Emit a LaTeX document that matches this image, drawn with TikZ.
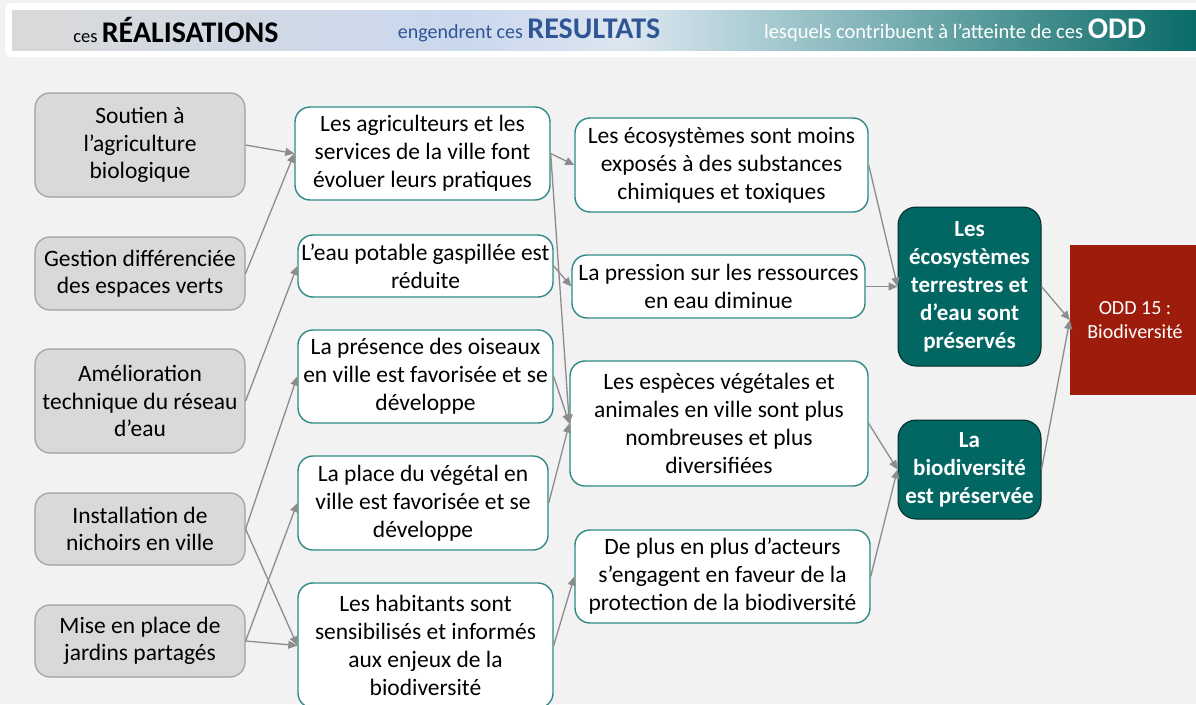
\documentclass[tikz,border=0pt]{standalone}
\usepackage{fontspec}
\setmainfont{Carlito}
\usetikzlibrary{arrows.meta}

\definecolor{fond}{HTML}{F2F2F2}
\definecolor{grisbox}{HTML}{D9D9D9}
\definecolor{grisbord}{HTML}{A0A0A0}
\definecolor{bordvert}{HTML}{2E8A86}
\definecolor{vertodd}{HTML}{026662}
\definecolor{rougeodd}{HTML}{9E1C0C}
\definecolor{fleche}{HTML}{8C8C8C}
\definecolor{bleutitre}{HTML}{2F5597}
\definecolor{bgris}{HTML}{D9D9D9}
\definecolor{bbleu}{HTML}{CAD8EE}
\definecolor{bclair}{HTML}{DDE6F0}
\definecolor{bturq}{HTML}{A6CAD0}
\definecolor{bvert}{HTML}{0A6B67}
\pgfdeclarehorizontalshading{bandeau}{100bp}{color(0bp)=(bgris); color(25bp)=(bgris);
  color(44bp)=(bbleu); color(51bp)=(bclair); color(57bp)=(bturq); color(75bp)=(bvert); color(100bp)=(bvert)}

\begin{document}
\begin{tikzpicture}[x=1pt, y=-1pt,
                    realisation/.style={rectangle, rounded corners=15pt, draw=grisbord, line width=1.2pt, fill=grisbox,
                                        minimum width=210pt, align=center, font=\fontsize{23.5}{27.5}\selectfont},
                    resultat/.style={rectangle, rounded corners=15pt, draw=bordvert, line width=1.4pt, fill=white,
                                     align=center, font=\fontsize{23.5}{28}\selectfont},
                    impact/.style={rectangle, rounded corners=18pt, draw=black!60!vertodd, line width=1pt, fill=vertodd,
                                   text=white, minimum width=143pt, align=center, font=\fontsize{23}{28}\selectfont\bfseries},
                    odd/.style={rectangle, fill=rougeodd, text=white, align=center, font=\fontsize{20}{24}\selectfont},
                    lien/.style={-{Triangle[width=8pt,length=9pt]}, draw=fleche, line width=1.3pt}]
  \fill[fond] (0,0) rectangle (1196,704);
  \useasboundingbox (0,0) rectangle (1196,704);
  \fill[white, rounded corners=6pt] (5,3) rectangle (1204,57);
  \shade[shading=bandeau] (12,10) rectangle (1196,50);
  \node (titre1) at (176,30) {\fontsize{18.5}{20}\selectfont ces \fontsize{30}{32}\selectfont\bfseries RÉALISATIONS};
  \node[text=bleutitre] (titre2) at (529,30) {\fontsize{20}{22}\selectfont engendrent ces \fontsize{30}{32}\selectfont\bfseries RESULTATS};
  \node[text=white] (titre3) at (955,30) {\fontsize{20.5}{22}\selectfont lesquels contribuent à l’atteinte de ces \fontsize{30}{32}\selectfont\bfseries ODD};

  \node[realisation, minimum height=104pt] (a1) at (140,145) {Soutien à\\l’agriculture\\biologique};
  \node[realisation, minimum height=73pt] (a2) at (140,273.5) {Gestion différenciée\\des espaces verts};
  \node[realisation, minimum height=104pt] (a3) at (140,401) {Amélioration\\technique du réseau\\d’eau};
  \node[realisation, minimum height=72pt] (a4) at (140,529) {Installation de\\nichoirs en ville};
  \node[realisation, minimum height=72pt] (a5) at (140,641) {Mise en place de\\jardins partagés};

  \node[resultat, minimum width=255pt, minimum height=93pt] (b1) at (422.5,153.5) {Les agriculteurs et les\\services de la ville font\\évoluer leurs pratiques};
  \node[resultat, minimum width=255pt, minimum height=62pt] (b2) at (425.5,266) {L’eau potable gaspillée est\\réduite};
  \node[resultat, minimum width=255pt, minimum height=93pt] (b3) at (425.5,376.5) {La présence des oiseaux\\en ville est favorisée et se\\développe};
  \node[resultat, minimum width=250pt, minimum height=94pt] (b4) at (423,503) {La place du végétal en\\ville est favorisée et se\\développe};
  \node[resultat, minimum width=255pt, minimum height=125pt] (b5) at (425.5,645.5) {Les habitants sont\\sensibilisés et informés\\aux enjeux de la\\biodiversité};

  \node[resultat, minimum width=293pt, minimum height=94pt] (c1) at (721.5,165) {Les écosystèmes sont moins\\exposés à des substances\\chimiques et toxiques};
  \node[resultat, minimum width=293pt, minimum height=63pt] (c2) at (718.5,286.5) {La pression sur les ressources\\en eau diminue};
  \node[resultat, minimum width=298pt, minimum height=125pt] (c3) at (719,423.5) {Les espèces végétales et\\animales en ville sont plus\\nombreuses et plus\\diversifiées};
  \node[resultat, minimum width=295pt, minimum height=93pt] (c4) at (722.5,576.5) {De plus en plus d’acteurs\\s’engagent en faveur de la\\protection de la biodiversité};

  \node[impact, minimum height=159pt] (d1) at (969.5,286.5) {Les\\écosystèmes\\terrestres et\\d’eau sont\\préservés};
  \node[impact, minimum height=99pt] (d2) at (969.5,469.5) {La\\biodiversité\\est préservée};

  \node[odd, minimum width=130pt, minimum height=150pt] (e) at (1135,320) {ODD 15 :\\Biodiversité};

  \draw[lien] (a1.east) -- (b1.west);
  \draw[lien] (a2.east) -- (b1.west);
  \draw[lien] (a3.east) -- (b2.west);
  \draw[lien] (a4.east) -- (b3.west);
  \draw[lien] (a4.east) -- (b5.west);
  \draw[lien] (a5.east) -- (b4.west);
  \draw[lien] (a5.east) -- (b5.west);
  \draw[lien] (b1.east) -- (c1.west);
  \draw[lien] (b1.east) -- (c3.west);
  \draw[lien] (b2.east) -- (c2.west);
  \draw[lien] (b3.east) -- (c3.west);
  \draw[lien] (b4.east) -- (c3.west);
  \draw[lien] (b5.east) -- (c4.west);
  \draw[lien] (c1.east) -- (d1.west);
  \draw[lien] (c2.east) -- (d1.west);
  \draw[lien] (c3.east) -- (d2.west);
  \draw[lien] (c4.east) -- (d2.west);
  \draw[lien] (d1.east) -- (e.west);
  \draw[lien] (d2.east) -- (e.west);
\end{tikzpicture}
\end{document}
